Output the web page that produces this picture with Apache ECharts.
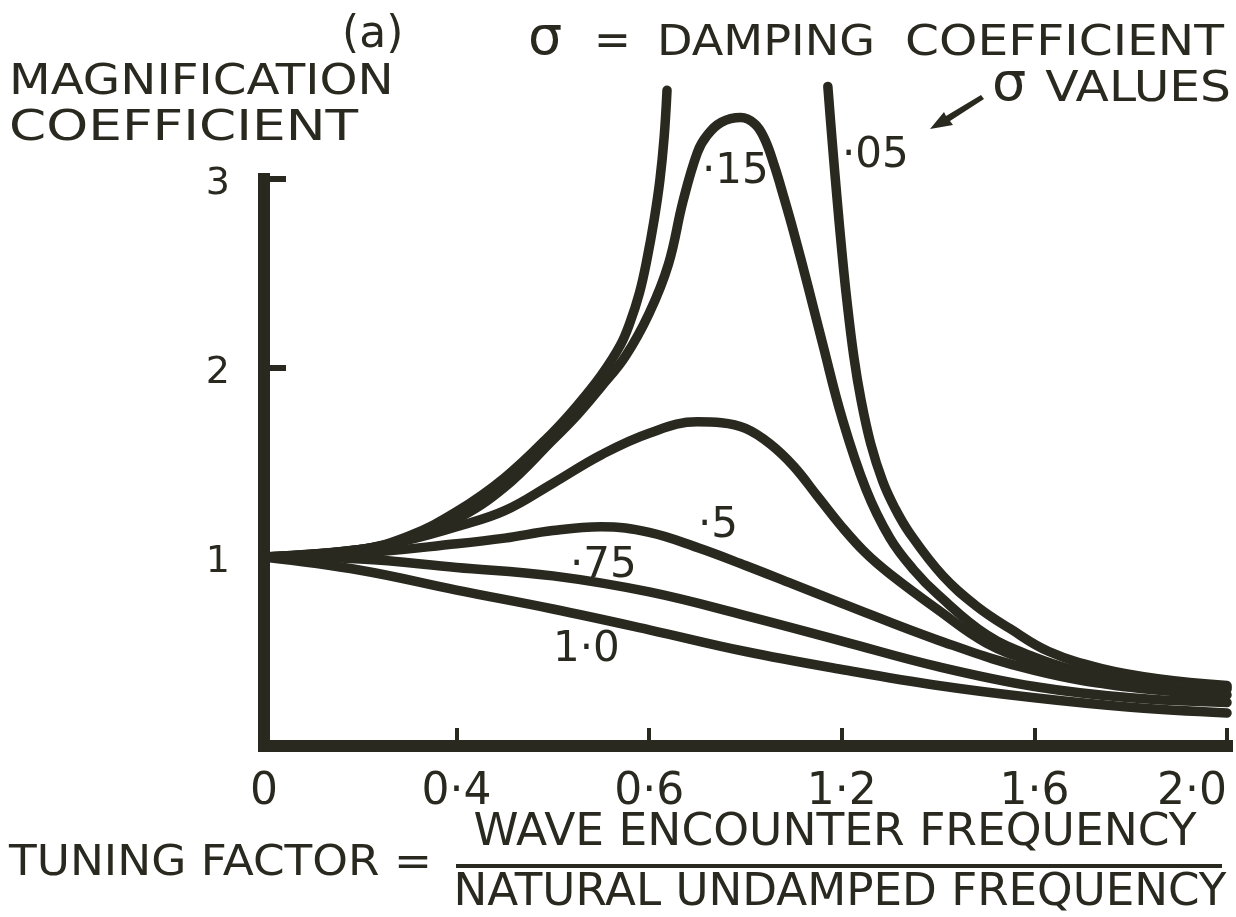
<!DOCTYPE html>
<html>
<head>
<meta charset="utf-8">
<script src="https://cdn.jsdelivr.net/npm/echarts@6/dist/echarts.min.js"></script>
<style>
  html, body { margin: 0; padding: 0; background: #ffffff; }
  #chart { width: 1236px; height: 917px; }
</style>
</head>
<body>
<div id="chart"></div>
<script>
// ---- data ----
const xTickValues = [0, 0.4, 0.8, 1.2, 1.6, 2.0];
const xTickLabels = ['0', '0·4', '0·6', '1·2', '1·6', '2·0'];   // as printed on the original
const yTickValues = [1, 2, 3];
const yTickLabels = ['1', '2', '3'];

// sigma = 0.05 (two branches; the curve runs off the top between them)
const sigma005Left = [[0,1.00],[0.2,1.04],[0.3,1.11],[0.4,1.24],[0.5,1.42],[0.6,1.66],[0.65,1.80],[0.7,1.96],[0.74,2.12],[0.76,2.24],[0.78,2.40],[0.795,2.57],[0.81,2.78],[0.822,2.99],[0.831,3.22],[0.837,3.47]];
const sigma005Right = [[1.171,3.49],[1.18,3.20],[1.19,2.90],[1.20,2.62],[1.21,2.37],[1.225,2.06],[1.24,1.83],[1.26,1.60],[1.285,1.40],[1.31,1.26],[1.34,1.13],[1.41,0.90],[1.48,0.74],[1.55,0.62],[1.63,0.50],[1.74,0.41],[1.86,0.355],[2.0,0.32]];
// sigma = 0.15
const sigma015 = [[0,1.00],[0.2,1.04],[0.3,1.10],[0.4,1.20],[0.5,1.37],[0.6,1.62],[0.65,1.75],[0.7,1.90],[0.75,2.06],[0.8,2.29],[0.84,2.55],[0.87,2.88],[0.9,3.14],[0.92,3.23],[0.95,3.30],[0.99,3.325],[1.02,3.29],[1.04,3.21],[1.06,3.07],[1.08,2.90],[1.1,2.72],[1.13,2.43],[1.16,2.13],[1.2,1.74],[1.25,1.36],[1.3,1.10],[1.35,0.93],[1.4,0.80],[1.5,0.59],[1.6,0.47],[1.7,0.39],[1.8,0.345],[1.9,0.32],[2.0,0.31]];
// sigma = 0.3 (curve without a printed label)
const sigma03 = [[0,1.00],[0.2,1.04],[0.3,1.09],[0.4,1.16],[0.5,1.245],[0.6,1.39],[0.7,1.54],[0.8,1.655],[0.9,1.715],[0.95,1.71],[1.0,1.68],[1.05,1.60],[1.1,1.48],[1.15,1.32],[1.2,1.16],[1.25,1.02],[1.3,0.91],[1.4,0.72],[1.5,0.545],[1.6,0.445],[1.7,0.38],[1.8,0.34],[1.9,0.315],[2.0,0.30]];
// sigma = 0.5
const sigma05 = [[0,1.00],[0.2,1.02],[0.4,1.07],[0.5,1.10],[0.6,1.14],[0.7,1.16],[0.8,1.13],[0.9,1.05],[1.0,0.955],[1.1,0.855],[1.2,0.755],[1.4,0.56],[1.6,0.40],[1.8,0.31],[2.0,0.27]];
// sigma = 0.75
const sigma075 = [[0,1.00],[0.2,0.99],[0.4,0.945],[0.6,0.90],[0.8,0.815],[1.0,0.69],[1.2,0.555],[1.4,0.42],[1.6,0.315],[1.8,0.255],[2.0,0.23]];
// sigma = 1.0
const sigma10 = [[0,1.00],[0.2,0.93],[0.4,0.825],[0.6,0.725],[0.8,0.615],[1.0,0.50],[1.2,0.405],[1.4,0.32],[1.6,0.255],[1.8,0.205],[2.0,0.175]];

// ---- styling ----
const ink = '#2a2920';
const FONT = "'DejaVu Sans', 'Liberation Sans', sans-serif";

function curve(name, data) {
  return {
    name: name,
    type: 'line',
    data: data,
    smooth: 0.4,
    symbol: 'none',
    clip: false,
    silent: true,
    lineStyle: { color: ink, width: 9.5, cap: 'round', join: 'round' }
  };
}

function txt(text, x, y, size, align, sx) {
  return {
    type: 'text', x: x, y: y, scaleX: sx || 1, silent: true,
    style: {
      text: text, fill: ink,
      font: size + 'px ' + FONT,
      textAlign: align || 'left',
      textVerticalAlign: 'middle'
    }
  };
}

const chart = echarts.init(document.getElementById('chart'), null, { renderer: 'canvas' });

chart.setOption({
  backgroundColor: '#ffffff',
  animation: false,
  grid: { left: 264, right: 9, top: 179, bottom: 171 },
  xAxis: {
    type: 'value',
    min: 0, max: 2.0, interval: 0.4,
    offset: 5,
    splitLine: { show: false },
    axisLine: { show: true, lineStyle: { color: ink, width: 12, cap: 'square' } },
    axisTick: { show: true, inside: true, length: 18, customValues: xTickValues.slice(1),
      lineStyle: { color: ink, width: 4 } },
    axisLabel: {
      show: true, margin: 20, color: ink, fontFamily: FONT, fontSize: 44,
      customValues: xTickValues,
      alignMaxLabel: 'right',
      formatter: function (v) {
        const i = Math.round(v / 0.4);
        return xTickLabels[i] !== undefined ? xTickLabels[i] : '';
      }
    }
  },
  yAxis: {
    type: 'value',
    min: 0, max: 3, interval: 1,
    offset: 6,
    splitLine: { show: false },
    axisLine: { show: true, lineStyle: { color: ink, width: 12, cap: 'square' } },
    axisTick: { show: true, inside: true, length: 22, customValues: [2, 3],
      lineStyle: { color: ink, width: 6 } },
    axisLabel: {
      show: true, margin: 28, color: ink, fontFamily: FONT, fontSize: 38,
      verticalAlign: 'top', lineHeight: 10,
      customValues: yTickValues,
      formatter: function (v) {
        const i = yTickValues.indexOf(Math.round(v));
        return i >= 0 ? yTickLabels[i] : '';
      }
    }
  },
  series: [
    curve('σ = ·05 (left branch)', sigma005Left),
    curve('σ = ·05 (right branch)', sigma005Right),
    curve('σ = ·15', sigma015),
    curve('σ = ·3', sigma03),
    curve('σ = ·5', sigma05),
    curve('σ = ·75', sigma075),
    curve('σ = 1·0', sigma10)
  ],
  graphic: [
    txt('(a)', 342, 36, 44),
    txt('σ', 528, 40, 54),
    txt('=', 594, 44, 44),
    txt('DAMPING', 657, 44, 42, 'left', 1.1),
    txt('COEFFICIENT', 1224, 44, 42, 'right', 1.16),
    txt('σ', 992, 86, 54),
    txt('VALUES', 1231, 90, 42, 'right', 1.16),
    txt('MAGNIFICATION', 9, 83, 42, 'left', 1.15),
    txt('COEFFICIENT', 9, 129, 42, 'left', 1.27),
    txt('·05', 842, 156, 42),
    txt('·15', 702, 172, 42),
    txt('·5', 698, 526, 42),
    txt('·75', 570, 566, 42),
    txt('1·0', 553, 650, 42),
    txt('TUNING FACTOR =', 9, 864, 42, 'left', 1.08),
    txt('WAVE ENCOUNTER FREQUENCY', 835, 834, 44, 'center', 1.035),
    txt('NATURAL UNDAMPED FREQUENCY', 840, 894, 44, 'center', 1.027),
    { type: 'line', silent: true, shape: { x1: 456, y1: 866, x2: 1222, y2: 866 },
      style: { stroke: ink, lineWidth: 4 } },
    { type: 'polygon', silent: true,
      shape: { points: [[930, 129], [944, 112], [946, 116], [981, 95], [984, 99], [950, 121], [953, 125]] },
      style: { fill: ink } }
  ]
});
</script>
</body>
</html>
